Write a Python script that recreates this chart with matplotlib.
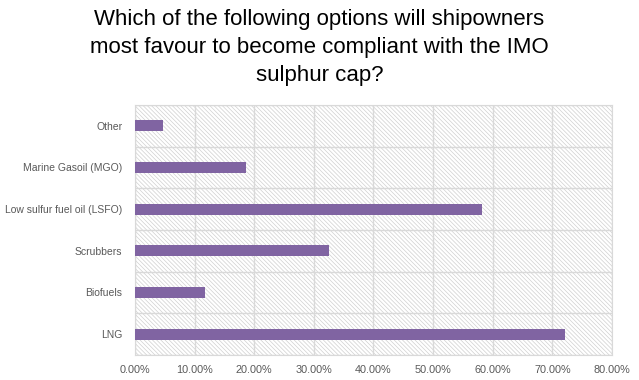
import matplotlib.pyplot as plt
from matplotlib.patches import Rectangle
from matplotlib.ticker import FuncFormatter, MultipleLocator

# Data
options = ["LNG", "Biofuels", "Scrubbers", "Low sulfur fuel oil (LSFO)",
           "Marine Gasoil (MGO)", "Other"]
shares = [72.1, 11.7, 32.6, 58.2, 18.6, 4.7]

title = ("Which of the following options will shipowners\n"
         "most favour to become compliant with the IMO\n"
         "sulphur cap?")

plt.rcParams["font.family"] = ["Liberation Sans", "DejaVu Sans"]
plt.rcParams["hatch.linewidth"] = 0.5
plt.rcParams["hatch.color"] = "#d0d0d0"

fig = plt.figure(figsize=(6.39, 3.80), dpi=100)
ax = fig.add_axes([0.2113, 0.0658, 0.7464, 0.6579])

# hatched plot area background
ax.add_patch(Rectangle((0, 0), 1, 1, transform=ax.transAxes, facecolor="white",
                       edgecolor="#d0d0d0", hatch="\\" * 8, linewidth=0, zorder=0))

y = range(len(options))
ax.barh(y, shares, height=0.27, color="#8064a2", zorder=3)

ax.set_xlim(0, 80)
ax.set_ylim(-0.5, len(options) - 0.5)
ax.xaxis.set_major_locator(MultipleLocator(10))
ax.xaxis.set_major_formatter(FuncFormatter(lambda v, p: f"{v:.2f}%"))
ax.set_yticks(list(y))
ax.set_yticklabels(options)
ax.set_yticks([i + 0.5 for i in range(-1, len(options))], minor=True)

ax.grid(True, axis="x", which="major", color="#d9d9d9", linewidth=1, zorder=1)
ax.grid(True, axis="y", which="minor", color="#d9d9d9", linewidth=1, zorder=1)
ax.grid(False, axis="y", which="major")
ax.tick_params(which="both", length=0)
ax.tick_params(axis="x", labelsize=7.8, labelcolor="#595959", pad=7)
ax.tick_params(axis="y", labelsize=7.5, labelcolor="#595959", pad=9)
for s in ax.spines.values():
    s.set_color("#d9d9d9")

fig.suptitle(title, y=0.975, fontsize=16, color="black", linespacing=1.42)

plt.savefig("out.png", dpi=100)
plt.close()
